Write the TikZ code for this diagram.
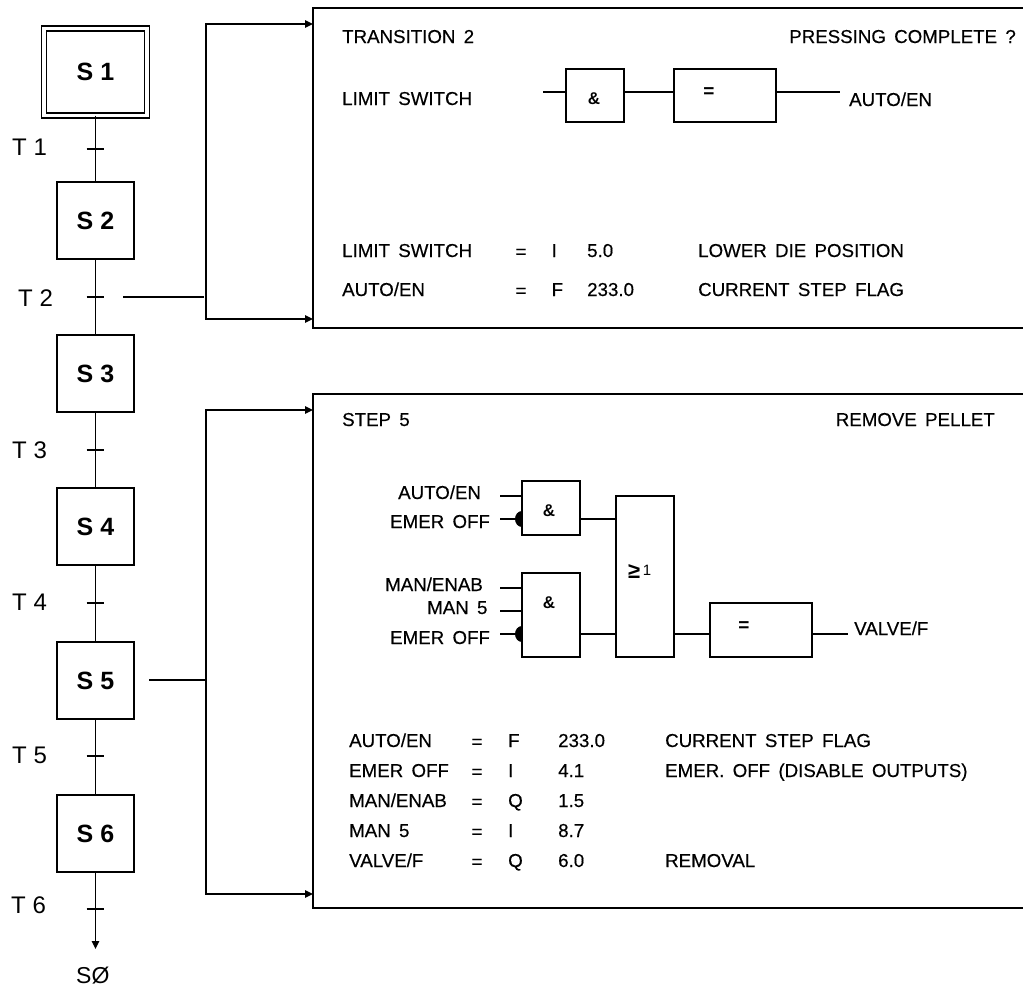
\documentclass[tikz,border=0pt]{standalone}
\usepackage{fontspec}
\setmainfont{Liberation Sans}
\newfontfamily\lblfont[WordSpace=1.6, FakeBold=0.35]{Liberation Sans}
\usetikzlibrary{arrows.meta, positioning}
\newcommand{\steplbl}[1]{S #1\hspace{7pt}}

\begin{document}
\begin{tikzpicture}[
  x=1pt, y=-1pt,
  stepbox/.style={draw, line width=1.5pt, inner sep=0pt, outer sep=0pt, minimum width=77pt, minimum height=77pt, font=\fontsize{25}{28}\selectfont\bfseries},
  gate/.style={draw, line width=1.5pt, inner sep=0pt, outer sep=0pt},
  panel/.style={draw, line width=1.8pt, inner sep=0pt, outer sep=0pt, anchor=north west, minimum width=720pt},
  lbl/.style={anchor=base west, inner sep=0pt, font=\fontsize{18.7}{20}\lblfont},
  sym/.style={inner sep=0pt, font=\fontsize{17}{20}\selectfont\bfseries},
  big/.style={anchor=base west, inner sep=0pt, font=\fontsize{24}{28}\selectfont},
  wire/.style={line width=1.5pt},
  arr/.style={-{Triangle[length=8pt, width=7.5pt]}, line width=1.5pt}
]
\useasboundingbox (0,0) rectangle (1023,988);
% step chain
\node[stepbox, minimum width=103pt, minimum height=87pt, double, double distance=3.2pt] (s1) at (95.5,72) {\steplbl{1}};
\node[stepbox, below=66.5pt of s1] (s2) {\steplbl{2}};
\node[stepbox, below=76pt of s2] (s3) {\steplbl{3}};
\node[stepbox, below=76pt of s3] (s4) {\steplbl{4}};
\node[stepbox, below=77pt of s4] (s5) {\steplbl{5}};
\node[stepbox, below=76pt of s5] (s6) {\steplbl{6}};
\coordinate[below=77pt of s6] (end);
\node[big, font=\fontsize{23}{28}\selectfont] (s0) at (76,983) {SØ};
\foreach \a/\b in {s1/s2, s2/s3, s3/s4, s4/s5, s5/s6}
  \draw[wire] (\a) -- (\b);
\draw[arr] (s6) -- (end);
\foreach \n/\x/\y/\ty in {1/12/149/155, 2/18/297/306, 3/12/450/458, 4/12/603/610, 5/12/756/763, 6/11/909/913} {
  \coordinate (t\n) at (95,\y);
  \draw[wire] ([xshift=-8.5pt]t\n) -- ([xshift=8.5pt]t\n);
  \node[big] (tl\n) at (\x,\ty) {T \n};
}
% transition panel
\node[panel, minimum height=320pt] (p1) at (313,8) {};
\coordinate (p1a) at (313,24);
\coordinate (p1b) at (313,319);
\coordinate (f1) at (123,297);
\coordinate (j1) at (206,297);
\draw[wire] (f1) -- ([xshift=-2pt]j1);
\draw[arr] (j1) |- (p1a);
\draw[arr] (j1) |- (p1b);
\node[lbl] (h1) at (342,43) {TRANSITION 2};
\node[lbl, anchor=base east] (h2) at (1016,43) {PRESSING COMPLETE ?};
\node[lbl] (n1) at (342,105) {LIMIT SWITCH};
\node[gate, minimum width=58pt, minimum height=53pt] (and1) at (595,95.5) {};
\node[gate, minimum width=102pt, minimum height=53pt, right=50pt of and1] (eq1) {};
\node[sym] (ands1) at (594,99) {\&};
\node[sym, font=\fontsize{19}{20}\selectfont\bfseries] (eqs1) at (709,93) {=};
\coordinate (i1) at (543,92);
\coordinate (o1) at (840,92);
\node[lbl] (n2) at (849,106) {AUTO/EN};
\draw[wire] (i1) -- (i1 -| and1.west);
\draw[wire] (and1.east |- i1) -- (eq1.west |- i1);
\draw[wire] (eq1.east |- i1) -- (o1);
\foreach \i/\y/\a/\b/\c/\d in {1/257/LIMIT SWITCH/I/5.0/LOWER DIE POSITION, 2/296/AUTO\slash EN/F/233.0/CURRENT STEP FLAG} {
  \node[lbl] (r\i a) at (342,\y) {\a};
  \node[lbl, anchor=base] (r\i b) at (521,\y+1) {=};
  \node[lbl] (r\i c) at (551.5,\y) {\b};
  \node[lbl] (r\i d) at (587,\y) {\c};
  \node[lbl] (r\i e) at (698,\y) {\d};
}
% step panel
\node[panel, minimum height=514pt] (p2) at (313,394) {};
\coordinate (p2a) at (313,410);
\coordinate (p2b) at (313,894);
\coordinate (f2) at (149,680);
\coordinate (j2) at (206,680);
\draw[wire] (f2) -- (j2);
\draw[arr] (j2) |- (p2a);
\draw[arr] (j2) |- (p2b);
\node[lbl] (h3) at (342,426) {STEP 5};
\node[lbl, anchor=base east] (h4) at (995,426) {REMOVE PELLET};
\node[gate, minimum width=58pt, minimum height=54pt] (and2) at (551,508) {};
\node[gate, minimum width=58pt, minimum height=84pt] (and3) at (551,615) {};
\node[gate, minimum width=58pt, minimum height=161pt] (or1) at (645,576.5) {};
\node[gate, minimum width=102pt, minimum height=54pt] (eq2) at (761,630) {};
\node[sym] (ands2) at (549,511) {\&};
\node[sym] (ands3) at (549,603) {\&};
\node[sym, font=\fontsize{22}{24}\selectfont\bfseries, anchor=base west] (orsym) at (628,578) {≥\raisebox{3pt}{\fontsize{15}{18}\selectfont\mdseries\,1}};
\node[sym, font=\fontsize{19}{20}\selectfont\bfseries] (eqs2) at (744,627) {=};
\foreach \n/\x/\y/\t/\ly in {a/398/496/AUTO\slash EN/499, b/390/519/EMER OFF/528, c/385/588/MAN\slash ENAB/591, d/427/611/MAN 5/614, e/390/634/EMER OFF/644} {
  \node[lbl] (in\n) at (\x,\ly) {\t};
  \coordinate (w\n) at (500,\y);
  \coordinate (g\n) at (522,\y);
  \draw[wire] (w\n) -- (g\n);
}
\foreach \n in {b, e}
  \fill ([yshift=8pt]g\n) arc[start angle=90, end angle=270, x radius=7pt, y radius=8pt];
\coordinate (or2) at (616,519);
\coordinate (or3) at (616,634);
\draw[wire] (and2.east |- or2) -- (or2);
\draw[wire] (and3.east |- or3) -- (or3);
\draw[wire] (or1.east |- or3) -- (eq2.west |- or3);
\coordinate (o2) at (848,634);
\draw[wire] (eq2.east |- o2) -- (o2);
\node[lbl] (n3) at (854,635) {VALVE/F};
\foreach \i/\y/\a/\b/\c/\d in {1/747/AUTO\slash EN/F/233.0/CURRENT STEP FLAG, 2/777/EMER OFF/I/4.1/EMER. OFF (DISABLE OUTPUTS), 3/807/MAN\slash ENAB/Q/1.5/, 4/837/MAN 5/I/8.7/, 5/867/VALVE\slash F/Q/6.0/REMOVAL} {
  \node[lbl] (q\i a) at (349,\y) {\a};
  \node[lbl, anchor=base] (q\i b) at (477,\y+1) {=};
  \node[lbl] (q\i c) at (508,\y) {\b};
  \node[lbl] (q\i d) at (558,\y) {\c};
  \node[lbl] (q\i e) at (665,\y) {\d};
}
\end{tikzpicture}
\end{document}
